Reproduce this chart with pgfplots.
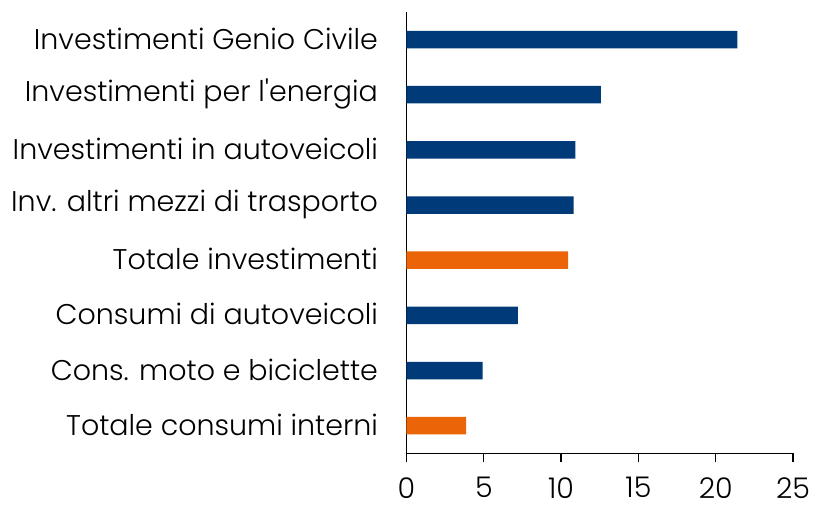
\documentclass[border=0pt]{standalone}
\usepackage{fontspec}
\setmainfont{Poppins}[UprightFont=* Light]
\usepackage{pgfplots}
\pgfplotsset{compat=1.18}
\definecolor{navy}{HTML}{003A78}
\definecolor{orng}{HTML}{EB6407}
\begin{document}
\begin{tikzpicture}
\useasboundingbox (-406.5pt,-51.7pt) rectangle (406.5pt,453.3pt);
\begin{axis}[
  at={(0,0)}, anchor=south west,
  scale only axis,
  width=386.5pt, height=441.3pt,
  xmin=0, xmax=25, ymin=-0.5, ymax=7.5,
  xtick={0,5,10,15,20,25},
  ytick={0,...,7},
  yticklabels={Totale consumi interni,Cons. moto e biciclette,Consumi di autoveicoli,Totale investimenti,Inv. altri mezzi di trasporto,Investimenti in autoveicoli,Investimenti per l\textquotesingle energia,Investimenti Genio Civile},
  axis lines=left,
  axis line style={-, line width=1.2pt, black},
  x axis line style={-},
  y axis line style={-},
  major tick length=9pt,
  xtick style={line width=1.2pt, black},
  xtick pos=bottom, xtick align=outside,
  ytick style={draw=none},
  /pgf/number format/assume math mode=true,
  tick label style={font=\fontsize{28.5}{31}\selectfont, black},
  yticklabel style={xshift=-16pt, yshift=1pt},
  xticklabel style={inner sep=0pt, yshift=-15pt},
  xbar, bar width=17.5pt, bar shift=0pt,
]
\addplot[draw=none, fill=navy] coordinates {(21.4,7) (12.58,6) (10.92,5) (10.81,4) (7.21,2) (4.93,1)};
\addplot[draw=none, fill=orng] coordinates {(10.45,3) (3.85,0)};
\end{axis}
\end{tikzpicture}
\end{document}
